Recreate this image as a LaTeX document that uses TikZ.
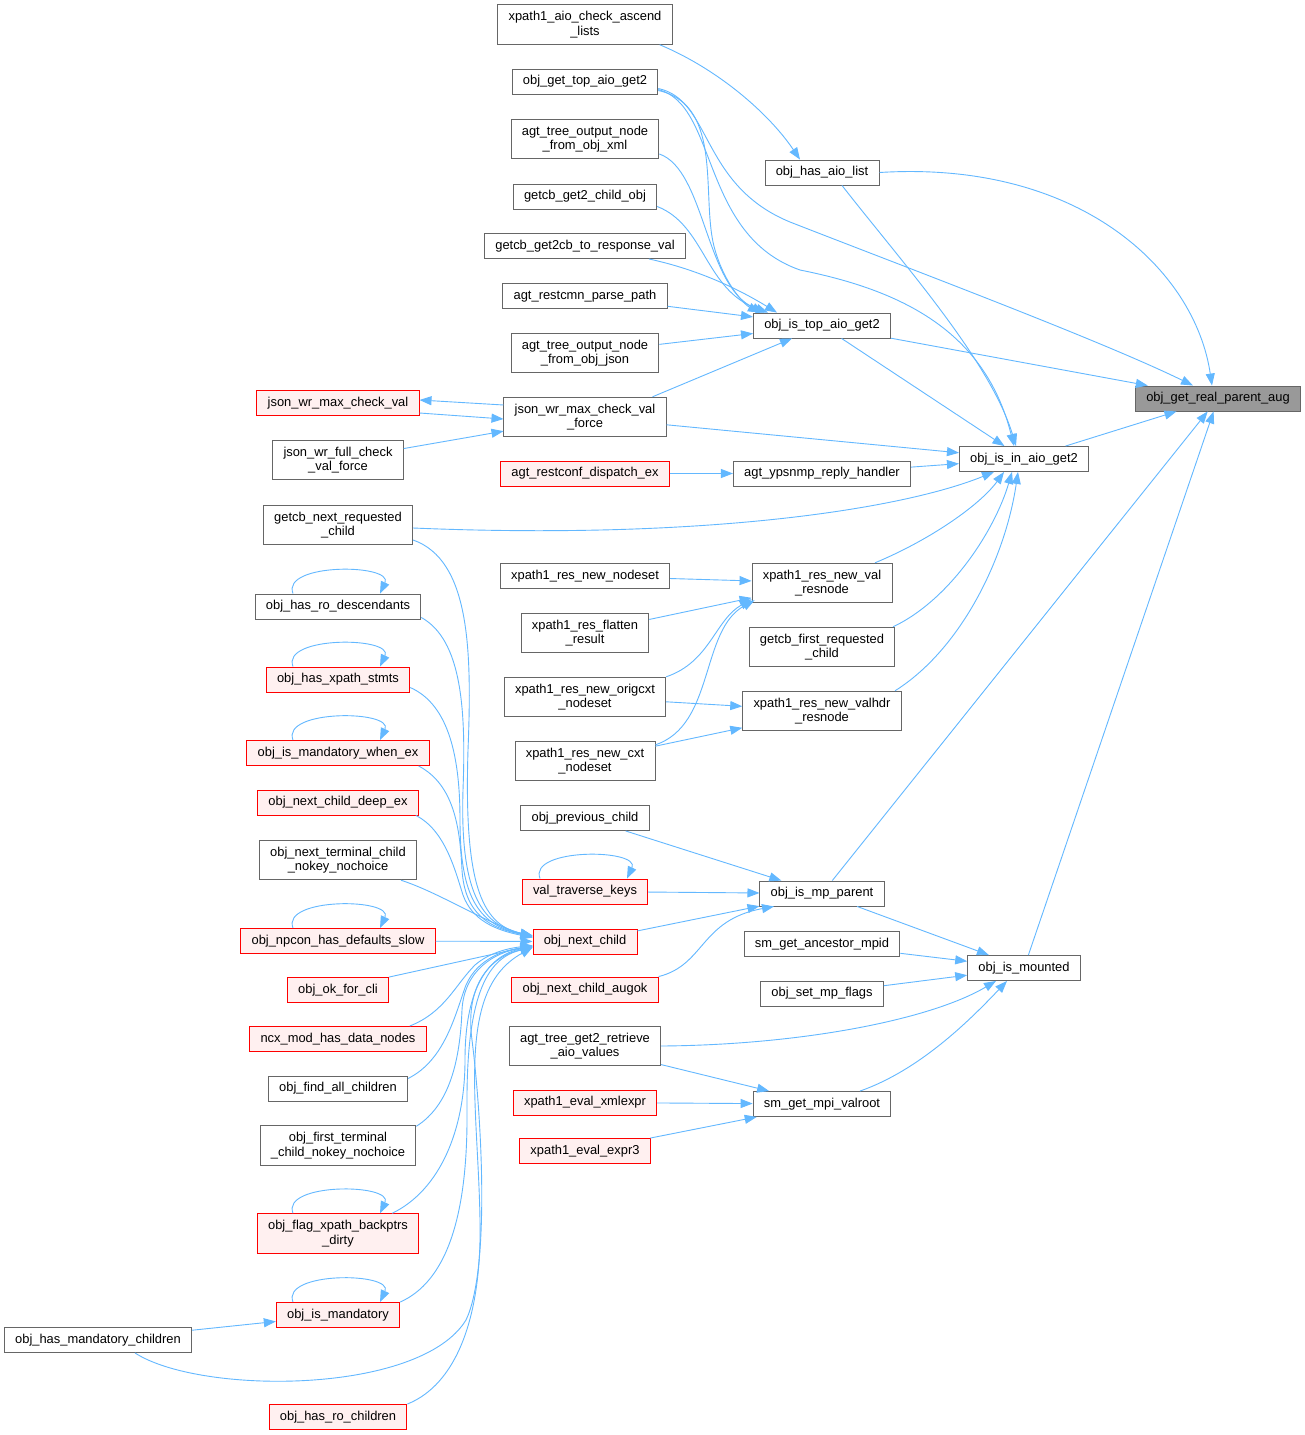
\documentclass[tikz,border=0pt]{standalone}
\usepackage{fontspec}
\setmainfont{Liberation Sans}
\usetikzlibrary{arrows.meta}
\definecolor{edgec}{HTML}{63B8FF}
\definecolor{nodeb}{HTML}{666666}
\definecolor{redfill}{HTML}{FFF0F0}
\definecolor{rootfill}{HTML}{999999}
\tikzset{
  box/.style={draw=nodeb, line width=0.9pt, fill=white, inner xsep=10.8pt, inner ysep=2pt,
    minimum height=25pt, align=center, font=\fontsize{12.9}{14.5}\selectfont},
  two/.style={minimum height=39.5pt},
  redbox/.style={box, draw=red, fill=redfill},
  rootbox/.style={box, fill=rootfill},
  e/.style={draw=edgec, line width=0.9pt, -{Triangle[length=12pt,width=9pt]}}
}
\begin{document}
\begin{tikzpicture}[x=1pt,y=-1pt]
\fill[white] (0,0) rectangle (1305,1435);
\useasboundingbox (0,0) rectangle (1305,1435);
% left-middle column
\node[box,two] (n1) at (585,24.5) {xpath1\_aio\_check\_ascend\\\_lists};
\node[box] (n2) at (585,81.5) {obj\_get\_top\_aio\_get2};
\node[box,two] (n3) at (585,139) {agt\_tree\_output\_node\\\_from\_obj\_xml};
\node[box] (n4) at (585,196.5) {getcb\_get2\_child\_obj};
\node[box] (n5) at (585,246) {getcb\_get2cb\_to\_response\_val};
\node[box] (n6) at (585,296) {agt\_restcmn\_parse\_path};
\node[box,two] (n7) at (585,353) {agt\_tree\_output\_node\\\_from\_obj\_json};
\node[redbox] (n8) at (338,403) {json\_wr\_max\_check\_val};
\node[box,two] (n9) at (585,417) {json\_wr\_max\_check\_val\\\_force};
\node[box,two] (n10) at (338,460) {json\_wr\_full\_check\\\_val\_force};
\node[redbox] (n11) at (585,473.5) {agt\_restconf\_dispatch\_ex};
\node[box,two] (n12) at (338,525) {getcb\_next\_requested\\\_child};
\node[box] (n13) at (585,576) {xpath1\_res\_new\_nodeset};
\node[box,two] (n14) at (585,633) {xpath1\_res\_flatten\\\_result};
\node[box] (n15) at (338,606.5) {obj\_has\_ro\_descendants};
\node[redbox] (n16) at (338,679.5) {obj\_has\_xpath\_stmts};
\node[box,two] (n17) at (585,697) {xpath1\_res\_new\_origcxt\\\_nodeset};
\node[redbox] (n18) at (338,753) {obj\_is\_mandatory\_when\_ex};
\node[box,two] (n19) at (585,761) {xpath1\_res\_new\_cxt\\\_nodeset};
\node[redbox] (n20) at (338,802.5) {obj\_next\_child\_deep\_ex};
\node[box] (n21) at (585,818) {obj\_previous\_child};
\node[box,two] (n22) at (338,860) {obj\_next\_terminal\_child\\\_nokey\_nochoice};
\node[redbox] (n23) at (585,891.5) {val\_traverse\_keys};
\node[redbox] (n24) at (338,941) {obj\_npcon\_has\_defaults\_slow};
\node[redbox] (n25) at (585,941.5) {obj\_next\_child};
\node[redbox] (n26) at (338,990) {obj\_ok\_for\_cli};
\node[redbox] (n27) at (585,989.5) {obj\_next\_child\_augok};
\node[redbox] (n28) at (338,1039) {ncx\_mod\_has\_data\_nodes};
\node[box,two] (n29) at (585,1046) {agt\_tree\_get2\_retrieve\\\_aio\_values};
\node[box] (n30) at (338,1088.5) {obj\_find\_all\_children};
\node[redbox] (n31) at (585,1102.5) {xpath1\_eval\_xmlexpr};
\node[box,two] (n32) at (338,1145.5) {obj\_first\_terminal\\\_child\_nokey\_nochoice};
\node[redbox] (n33) at (585,1151) {xpath1\_eval\_expr3};
\node[redbox,two] (n34) at (338,1233.5) {obj\_flag\_xpath\_backptrs\\\_dirty};
\node[redbox] (n35) at (338,1315) {obj\_is\_mandatory};
\node[box] (n36) at (98,1340) {obj\_has\_mandatory\_children};
\node[redbox] (n37) at (338,1417) {obj\_has\_ro\_children};
% middle column
\node[box] (n38) at (822,172.5) {obj\_has\_aio\_list};
\node[box] (n39) at (822,325.5) {obj\_is\_top\_aio\_get2};
\node[box] (n40) at (822,473.5) {agt\_ypsnmp\_reply\_handler};
\node[box,two] (n41) at (822,583) {xpath1\_res\_new\_val\\\_resnode};
\node[box,two] (n42) at (822,647) {getcb\_first\_requested\\\_child};
\node[box,two] (n43) at (822,711) {xpath1\_res\_new\_valhdr\\\_resnode};
\node[box] (n44) at (822,893.5) {obj\_is\_mp\_parent};
\node[box] (n45) at (822,944) {sm\_get\_ancestor\_mpid};
\node[box] (n46) at (822,993.5) {obj\_set\_mp\_flags};
\node[box] (n47) at (822,1104) {sm\_get\_mpi\_valroot};
\node[box] (n48) at (1024,459) {obj\_is\_in\_aio\_get2};
\node[box] (n49) at (1024,968) {obj\_is\_mounted};
\node[rootbox] (n50) at (1218,398.5) {obj\_get\_real\_parent\_aug};

% into root
\draw[e] (n38.east) .. controls (1080,160) and (1195,270) .. ([xshift=-6pt]n50.north);
\draw[e] ([yshift=-7pt]n2.east) .. controls (712,100) and (700,185) .. (790,222) .. controls (900,265) and (1100,340) .. ([xshift=-25pt]n50.north);
\draw[e] (n39) -- (n50);
\draw[e] (n48) -- (n50);
\draw[e] (n44) -- (n50);
\draw[e] (n49) -- (n50);
% into obj_is_in_aio_get2
\draw[e] ([yshift=-8pt]n2.east) .. controls (718,105) and (700,235) .. (800,270) .. controls (900,290) and (985,330) .. ([xshift=-10pt]n48.north);
\draw[e] ([xshift=20pt]n38.south) .. controls (900,260) and (990,360) .. ([xshift=-8pt]n48.north);
\draw[e] (n39) -- (n48);
\draw[e] (n9) -- (n48);
\draw[e] (n40) -- (n48);
\draw[e] ([yshift=-3pt]n12.east) .. controls (700,540) and (900,510) .. ([xshift=-30pt]n48.south);
\draw[e] ([xshift=53pt]n41.north) .. controls (930,540) and (980,505) .. ([xshift=-20pt]n48.south);
\draw[e] ([xshift=71pt]n42.north) .. controls (950,600) and (995,530) .. ([xshift=-12pt]n48.south);
\draw[e] ([xshift=73pt]n43.north) .. controls (960,650) and (1005,560) .. ([xshift=-6pt]n48.south);
% into obj_is_top_aio_get2
\draw[e] ([yshift=-9pt]n2.east) .. controls (725,105) and (700,200) .. (715,250) .. controls (725,285) and (745,305) .. ([xshift=-62pt]n39.north);
\draw[e] ([yshift=-15pt]n3.east) .. controls (705,170) and (705,285) .. ([xshift=-58pt]n39.north);
\draw[e] ([yshift=-10pt]n4.east) .. controls (705,225) and (705,290) .. ([xshift=-54pt]n39.north);
\draw[e] ([xshift=-37pt]n5.south east) .. controls (700,270) and (740,290) .. ([xshift=-45pt]n39.north);
\draw[e] (n6) -- (n39);
\draw[e] (n7) -- (n39);
\draw[e] ([xshift=-14pt]n9.north east) -- ([xshift=-30pt]n39.south);
% json
\draw[e] ([yshift=12pt]n9.west) -- ([yshift=3pt]n8.east);
\draw[e] ([yshift=-10pt]n8.east) -- ([yshift=-2pt]n9.west);
\draw[e] (n10) -- (n9);
\draw[e] (n11) -- (n40);
% obj_has_aio_list
\draw[e] ([xshift=-13pt]n1.south east) .. controls (720,70) and (770,115) .. ([xshift=-22pt]n38.north);
% xpath1_res_new_val_resnode
\draw[e] (n13) -- (n41);
\draw[e] (n14) -- (n41);
\draw[e] (n17.north east) .. controls (710,662) and (715,620) .. ([yshift=4pt]n41.south west);
\draw[e] ([yshift=-4pt]n19.north east) .. controls (715,725) and (700,630) .. ([xshift=3pt,yshift=3pt]n41.south west);
% valhdr
\draw[e] (n17) -- (n43);
\draw[e] (n19) -- (n43);
% obj_is_mp_parent
\draw[e] (n21) -- (n44);
\draw[e] (n23) -- (n44);
\draw[e] (n25) -- (n44);
\draw[e] (n27.north east) .. controls (705,965) and (700,920) .. ([xshift=-48pt]n44.south);
% obj_is_mounted
\draw[e] (n44) -- (n49);
\draw[e] (n45) -- (n49);
\draw[e] (n46) -- (n49);
\draw[e] (n29.east) .. controls (800,1045) and (930,1020) .. ([xshift=-28pt]n49.south);
\draw[e] ([xshift=38pt]n47.north) .. controls (920,1070) and (970,1020) .. ([xshift=-17pt]n49.south);
% sm_get_mpi_valroot
\draw[e] (n29) -- (n47);
\draw[e] (n31) -- (n47);
\draw[e] (n33) -- (n47);
% obj_is_mandatory
\draw[e] (n36) -- (n35);
% self loops
\draw[e] ([xshift=-45pt]n15.north) .. controls +(-12,-31) and +(14,-30) .. ([xshift=42pt]n15.north);
\draw[e] ([xshift=-45pt]n16.north) .. controls +(-12,-31) and +(14,-30) .. ([xshift=42pt]n16.north);
\draw[e] ([xshift=-45pt]n18.north) .. controls +(-12,-31) and +(14,-30) .. ([xshift=42pt]n18.north);
\draw[e] ([xshift=-45pt]n24.north) .. controls +(-12,-31) and +(14,-30) .. ([xshift=42pt]n24.north);
\draw[e] ([xshift=-45pt]n34.north) .. controls +(-12,-31) and +(14,-30) .. ([xshift=42pt]n34.north);
\draw[e] ([xshift=-45pt]n35.north) .. controls +(-12,-31) and +(14,-30) .. ([xshift=42pt]n35.north);
\draw[e] ([xshift=-45pt]n23.north) .. controls +(-12,-31) and +(14,-30) .. ([xshift=42pt]n23.north);
% into obj_next_child
\draw[e] ([yshift=-15pt]n12.east) .. controls (470,560) and (472,650) .. (468,750) .. controls (464,880) and (480,925) .. ([yshift=6pt]n25.west);
\draw[e] ([yshift=-11pt]n15.east) .. controls (462,640) and (466,710) .. (463,790) .. controls (460,890) and (480,925) .. ([yshift=6pt]n25.west);
\draw[e] ([yshift=-8pt]n16.east) .. controls (450,705) and (460,760) .. (460,820) .. controls (460,900) and (480,925) .. ([yshift=5pt]n25.west);
\draw[e] ([xshift=-11pt]n18.south east) .. controls (455,785) and (460,830) .. (462,870) .. controls (465,915) and (490,928) .. ([yshift=5pt]n25.west);
\draw[e] ([xshift=-3pt]n20.south east) .. controls (445,830) and (455,870) .. (463,895) .. controls (472,920) and (495,930) .. ([yshift=4pt]n25.west);
\draw[e] ([xshift=-16pt]n22.south east) .. controls (440,893) and (480,920) .. ([yshift=4pt]n25.west);
\draw[e] (n24) -- (n25);
\draw[e] (n26.north east) -- ([yshift=-4pt]n25.west);
\draw[e] ([xshift=-17pt]n28.north east) .. controls (445,1012) and (455,985) .. (475,965) .. controls (490,952) and (510,948) .. ([yshift=-4pt]n25.west);
\draw[e] ([yshift=10pt]n30.east) .. controls (445,1060) and (455,1015) .. (466,985) .. controls (478,958) and (505,950) .. ([yshift=-5pt]n25.west);
\draw[e] ([yshift=-1pt]n32.north east) .. controls (450,1105) and (460,1060) .. (462,1010) .. controls (464,970) and (495,952) .. ([yshift=-5pt]n25.west);
\draw[e] ([xshift=-27pt]n34.north east) .. controls (440,1190) and (465,1130) .. (465,1060) .. controls (465,985) and (490,955) .. ([yshift=-5pt]n25.west);
\draw[e] (n35.north east) .. controls (445,1282) and (468,1220) .. (467,1110) .. controls (466,1000) and (485,958) .. ([yshift=-6pt]n25.west);
\draw[e] ([xshift=37pt]n36.south) .. controls (200,1395) and (420,1395) .. (466,1320) .. controls (490,1270) and (482,1120) .. (472,1040) .. controls (464,980) and (495,955) .. ([yshift=-6pt]n25.west);
\draw[e] (n37.north east) .. controls (455,1385) and (482,1320) .. (480,1220) .. controls (478,1100) and (455,990) .. ([yshift=-6pt]n25.west);
\end{tikzpicture}
\end{document}
